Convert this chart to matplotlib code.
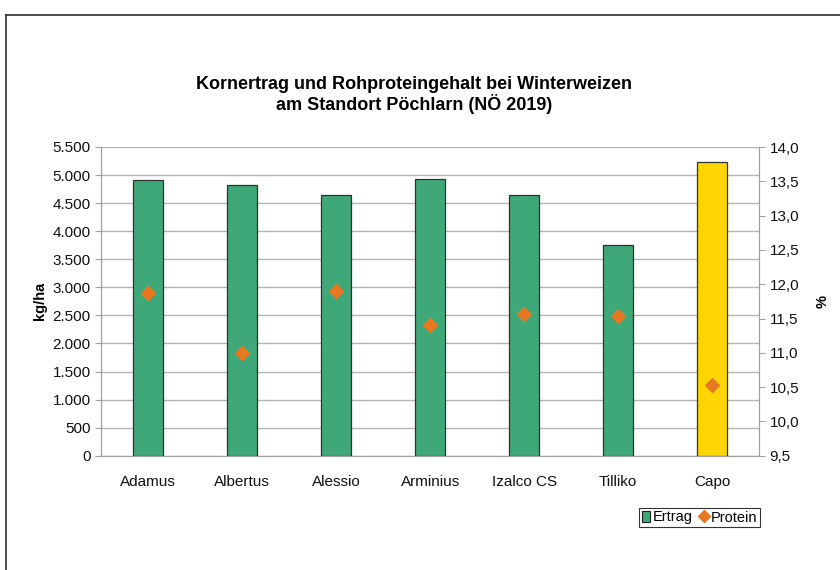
import matplotlib.pyplot as plt
from matplotlib.lines import Line2D
from matplotlib.patches import Patch
import matplotlib.ticker as mticker

plt.rcParams['font.family'] = ['Liberation Sans', 'DejaVu Sans']

sorten = ['Adamus', 'Albertus', 'Alessio', 'Arminius', 'Izalco CS', 'Tilliko', 'Capo']
ertrag = [4910, 4830, 4650, 4925, 4640, 3760, 5240]
protein = [11.87, 11.00, 11.90, 11.40, 11.57, 11.53, 10.53]
farben = ['#3fa878'] * 6 + ['#ffd500']

fig = plt.figure(figsize=(8.4, 5.7), dpi=100)
ax = fig.add_axes([101 / 840, 1 - 455.7 / 570, (759.3 - 101) / 840, (455.7 - 147) / 570])
ax2 = ax.twinx()

x = range(len(sorten))
ax.bar(x, ertrag, width=0.32, color=farben, edgecolor='#303030', linewidth=0.9, zorder=3)
ax2.scatter(x, protein, marker='D', s=50, color='#e87722', zorder=4)

ax.set_xlim(-0.5, len(sorten) - 0.5)
ax.set_ylim(0, 5500)
ax.set_yticks(range(0, 5501, 500))
ax.yaxis.set_major_formatter(mticker.FuncFormatter(lambda v, p: f'{int(v):,}'.replace(',', '.')))
ax2.set_ylim(9.5, 14.0)
ax2.set_yticks([9.5 + 0.5 * i for i in range(10)])
ax2.yaxis.set_major_formatter(mticker.FuncFormatter(lambda v, p: f'{v:.1f}'.replace('.', ',')))

ax.grid(axis='y', color='#b4b4b4', linewidth=1.0, zorder=0)
ax.set_axisbelow(True)
ax.set_xticks(list(x))
ax.set_xticklabels(sorten)

for a in (ax, ax2):
    a.spines['top'].set_visible(False)
    for s in ('left', 'right', 'bottom'):
        a.spines[s].set_color('#a0a0a0')
    a.tick_params(labelsize=11, colors='#a0a0a0', labelcolor='#111111', length=4)
ax.tick_params(axis='x', length=0, pad=14)
ax2.zorder = ax.zorder + 1

ax.set_ylabel('kg/ha', fontsize=10.5, fontweight='bold', labelpad=4)
ax2.set_ylabel('%', fontsize=10.5, fontweight='bold', labelpad=12)

fig.text(414 / 840, 1 - 95 / 570,
         'Kornertrag und Rohproteingehalt bei Winterweizen\nam Standort Pöchlarn (NÖ 2019)',
         ha='center', va='center', fontsize=13, fontweight='bold', linespacing=1.1)

handles = [Patch(facecolor='#3fa878', edgecolor='#202020', linewidth=0.8, label='Ertrag'),
           Line2D([], [], marker='D', linestyle='none', color='#e87722', markersize=6, label='Protein')]
leg = fig.legend(handles=handles, loc='center', bbox_to_anchor=(699.5 / 840, 1 - 517.5 / 570), ncol=2,
                 fontsize=10.5, frameon=True, fancybox=False, edgecolor='black', handlelength=0.6,
                 handletextpad=0.15, columnspacing=0.5, borderpad=0.2, borderaxespad=0)
leg.get_frame().set_linewidth(0.8)

# Rahmen oben und links
fig.add_artist(Line2D([6 / 840, 1], [1 - 15 / 570, 1 - 15 / 570], color='#303030', linewidth=1.2))
fig.add_artist(Line2D([6 / 840, 6 / 840], [0, 1 - 15 / 570], color='#303030', linewidth=1.2))

fig.savefig('out.png', dpi=100)
plt.close()
